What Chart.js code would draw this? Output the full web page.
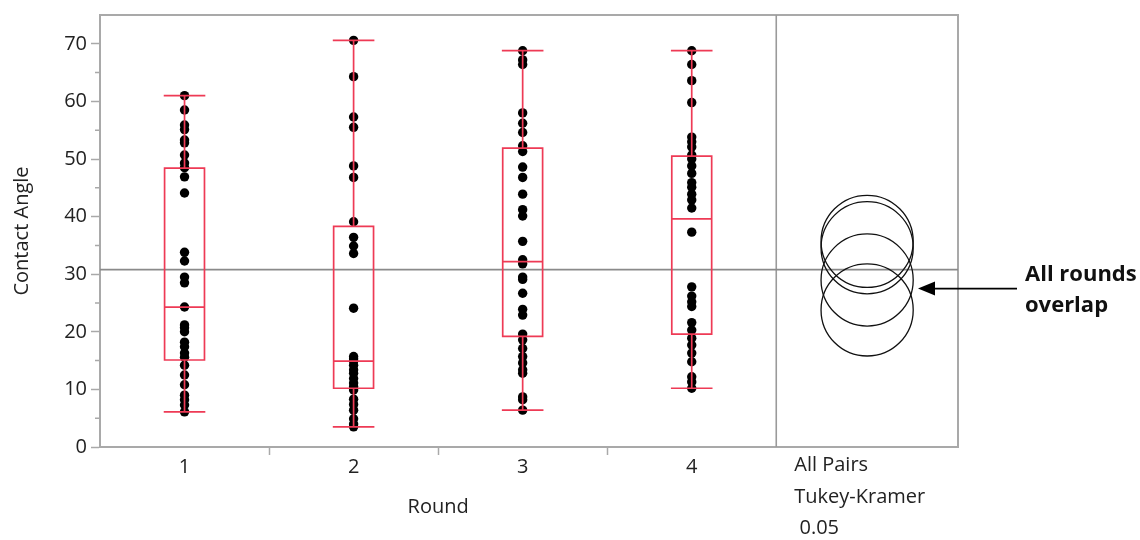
<!DOCTYPE html>
<html>
<head>
<meta charset="utf-8">
<script src="https://cdn.jsdelivr.net/npm/chart.js@4.4.0/dist/chart.umd.min.js"></script>
<style>
  html, body { margin: 0; padding: 0; background: #ffffff; }
  canvas { display: block; }
</style>
</head>
<body>
<canvas id="c" width="1140" height="540"></canvas>
<script>
// ---------------- data ----------------
const categories = ['1', '2', '3', '4'];

const round1 = [61.0, 58.5, 55.9, 55.1, 53.3, 52.8, 50.7, 49.3, 48.5, 46.9, 44.1, 33.8, 32.3, 29.5, 28.5,
                24.3, 21.2, 20.7, 20.0, 18.2, 17.4, 16.3, 15.6, 14.2, 12.5, 10.8, 9.0, 8.2, 7.3, 6.1];
const round2 = [70.6, 64.3, 57.3, 55.5, 48.8, 46.8, 39.1, 36.4, 34.9, 33.6, 24.1, 15.7, 15.3, 14.9,
                14.2, 13.4, 12.8, 11.9, 11.1, 10.5, 9.9, 8.3, 7.4, 6.4, 4.9, 4.0, 3.5];
const round3 = [68.8, 67.2, 66.4, 58.0, 56.2, 54.6, 52.3, 51.3, 48.6, 46.8, 43.9, 41.2, 40.1, 35.7, 32.5,
                31.8, 29.5, 29.1, 26.7, 23.9, 22.9, 19.6, 18.6, 17.1, 15.7, 14.6, 13.4, 12.8, 8.7, 8.2, 6.4];
const round4 = [68.8, 66.4, 63.6, 59.8, 53.8, 53.0, 52.1, 50.7, 50.0, 48.8, 47.5, 45.9, 45.1, 43.9, 42.9,
                41.5, 37.3, 27.8, 26.2, 25.2, 24.4, 21.6, 20.3, 18.9, 17.7, 16.3, 14.8, 12.2, 11.3, 10.2];
const roundValues = [round1, round2, round3, round4];

// box plot statistics
const whiskerHigh = [61.0, 70.6, 68.8, 68.8];
const q3 = [48.4, 38.3, 51.9, 50.5];
const medians = [24.3, 14.9, 32.2, 39.6];
const q1 = [15.1, 10.2, 19.2, 19.6];
const whiskerLow = [6.1, 3.5, 6.4, 10.2];

// comparison circles (Tukey-Kramer) – centres = group means, radius in data units
const groupMeans = [29.0, 23.8, 34.6, 35.7];
const circleRadius = 8.0;
const grandMean = 30.8;

const yTicks = [0, 10, 20, 30, 40, 50, 60, 70];
const testLabel = ['All Pairs', 'Tukey-Kramer', ' 0.05'];
const annotationLines = ['All rounds', 'overlap'];
const annotationValue = 27.5;

// ---------------- layout / style ----------------
const X_MIN = 0.5, X_MAX = 5.575, Y_MIN = 0, Y_MAX = 75;
const PANEL_SPLIT = categories.length + 0.5;
const HALF_W = 0.118;
const RED = '#ee3a55';
const TEXT = '#222222';
const FRAME = '#a9a9a9';
const FONT = "'Open Sans', 'DejaVu Sans', sans-serif";

Chart.defaults.font.family = FONT;
Chart.defaults.font.size = 20;
Chart.defaults.color = TEXT;

// box plot outline as one broken polyline (null breaks the line)
function boxSegments() {
  const pts = [];
  const brk = x => ({ x: x, y: null });
  categories.forEach((c, i) => {
    const x = i + 1;
    pts.push({ x: x - HALF_W, y: q1[i] }, { x: x + HALF_W, y: q1[i] }, { x: x + HALF_W, y: q3[i] },
             { x: x - HALF_W, y: q3[i] }, { x: x - HALF_W, y: q1[i] }, brk(x));
    pts.push({ x: x - HALF_W, y: medians[i] }, { x: x + HALF_W, y: medians[i] }, brk(x));
    pts.push({ x: x, y: q3[i] }, { x: x, y: whiskerHigh[i] }, brk(x));
    pts.push({ x: x - HALF_W, y: whiskerHigh[i] }, { x: x + HALF_W, y: whiskerHigh[i] }, brk(x));
    pts.push({ x: x, y: q1[i] }, { x: x, y: whiskerLow[i] }, brk(x));
    pts.push({ x: x - HALF_W, y: whiskerLow[i] }, { x: x + HALF_W, y: whiskerLow[i] }, brk(x));
  });
  return pts;
}

const pointData = [];
roundValues.forEach((vals, i) => vals.forEach(v => pointData.push({ x: i + 1, y: v })));

const circleX = (PANEL_SPLIT + X_MAX) / 2;
const circleData = groupMeans.map(m => ({ x: circleX, y: m }));

const xTickValues = [];
categories.forEach((c, i) => {
  xTickValues.push(i + 1);
  if (i < categories.length - 1) xTickValues.push(i + 1.5);
});

const decorations = {
  id: 'decorations',
  beforeDatasetsDraw(chart) {
    const { ctx, chartArea: a } = chart;
    const ys = chart.scales.y;
    ctx.save();
    ctx.strokeStyle = FRAME;
    ctx.lineWidth = 2;
    ctx.beginPath();
    ctx.moveTo(a.left, a.top);
    ctx.lineTo(a.right, a.top);
    ctx.lineTo(a.right, a.bottom);
    ctx.stroke();
    // minor y ticks
    ctx.lineWidth = 1.5;
    ctx.beginPath();
    for (let k = 0; k < yTicks.length - 1; k++) {
      const p = ys.getPixelForValue((yTicks[k] + yTicks[k + 1]) / 2);
      ctx.moveTo(a.left - 5, p);
      ctx.lineTo(a.left, p);
    }
    ctx.stroke();
    ctx.restore();
  },
  afterDraw(chart) {
    const { ctx, chartArea: a } = chart;
    const xs = chart.scales.x, ys = chart.scales.y;
    ctx.save();
    ctx.fillStyle = TEXT;
    ctx.font = '20px ' + FONT;
    ctx.textBaseline = 'alphabetic';
    // x-axis title centred under the category panel
    ctx.textAlign = 'center';
    ctx.fillText('Round', xs.getPixelForValue((1 + categories.length) / 2), 513);
    // test label under the circle panel
    ctx.textAlign = 'left';
    const lx = xs.getPixelForValue(PANEL_SPLIT) + 18;
    testLabel.forEach((t, k) => ctx.fillText(t, lx, 471 + k * 31.5));
    // annotation arrow
    const ay = ys.getPixelForValue(annotationValue);
    const tip = a.right - 40, tail = a.right + 59;
    ctx.strokeStyle = '#000';
    ctx.fillStyle = '#000';
    ctx.lineWidth = 1.6;
    ctx.beginPath();
    ctx.moveTo(tail, ay);
    ctx.lineTo(tip + 12, ay);
    ctx.stroke();
    ctx.beginPath();
    ctx.moveTo(tip, ay);
    ctx.lineTo(tip + 17, ay - 7);
    ctx.lineTo(tip + 17, ay + 7);
    ctx.closePath();
    ctx.fill();
    ctx.font = 'bold 22px ' + FONT;
    ctx.fillStyle = '#111';
    annotationLines.forEach((t, k) => ctx.fillText(t, a.right + 67, ay - 8 + k * 31));
    ctx.restore();
  }
};

new Chart(document.getElementById('c'), {
  type: 'scatter',
  data: {
    datasets: [
      {
        label: 'box',
        data: boxSegments(),
        showLine: true,
        spanGaps: false,
        borderColor: RED,
        borderWidth: 1.7,
        borderCapStyle: 'square',
        pointRadius: 0,
        order: 0
      },
      {
        label: 'points',
        data: pointData,
        pointRadius: 4.7,
        pointBackgroundColor: '#000',
        pointBorderColor: '#000',
        pointBorderWidth: 0,
        order: 1
      },
      {
        label: 'circles',
        data: circleData,
        pointRadius: ctx => {
          const s = ctx.chart.scales.y;
          return Math.abs(s.getPixelForValue(0) - s.getPixelForValue(circleRadius));
        },
        pointBackgroundColor: 'rgba(0,0,0,0)',
        pointBorderColor: '#111',
        pointBorderWidth: 1.3,
        order: 2
      },
      {
        label: 'grand mean',
        data: [{ x: X_MIN, y: grandMean }, { x: X_MAX, y: grandMean }],
        showLine: true,
        borderColor: '#8a8a8a',
        borderWidth: 1.6,
        pointRadius: 0,
        order: 3
      },
      {
        label: 'separator',
        data: [{ x: PANEL_SPLIT, y: Y_MIN }, { x: PANEL_SPLIT, y: Y_MAX }],
        showLine: true,
        borderColor: '#9a9a9a',
        borderWidth: 1.6,
        pointRadius: 0,
        order: 3
      }
    ]
  },
  options: {
    responsive: false,
    animation: false,
    devicePixelRatio: 1,
    events: [],
    layout: { padding: { top: 15, right: 182, left: 0, bottom: 0 } },
    plugins: { legend: { display: false }, tooltip: { enabled: false } },
    scales: {
      x: {
        type: 'linear',
        min: X_MIN,
        max: X_MAX,
        afterBuildTicks: s => { s.ticks = xTickValues.map(v => ({ value: v })); },
        afterFit: s => { s.height = 93; s.paddingLeft = 0; s.paddingRight = 0; },
        ticks: {
          autoSkip: false,
          maxRotation: 0,
          padding: 0,
          color: TEXT,
          font: { size: 20 },
          callback: v => Number.isInteger(v) ? categories[v - 1] : ''
        },
        grid: {
          display: true,
          drawOnChartArea: false,
          drawTicks: true,
          tickLength: 8,
          tickWidth: 1.5,
          tickColor: ctx => (ctx.tick && Number.isInteger(ctx.tick.value)) ? 'rgba(0,0,0,0)' : FRAME
        },
        border: { display: true, color: FRAME, width: 2 }
      },
      y: {
        type: 'linear',
        min: Y_MIN,
        max: Y_MAX,
        afterBuildTicks: s => { s.ticks = yTicks.map(v => ({ value: v })); },
        afterFit: s => { s.width = 100; s.paddingTop = 0; s.paddingBottom = 0; },
        ticks: { padding: 4, color: TEXT, font: { size: 20 } },
        grid: { display: true, drawOnChartArea: false, tickLength: 9, tickWidth: 1.5, tickColor: FRAME },
        border: { display: true, color: FRAME, width: 2 },
        title: {
          display: true,
          text: 'Contact Angle',
          color: TEXT,
          font: { size: 20 },
          padding: { top: 10, bottom: 0 }
        }
      }
    }
  },
  plugins: [decorations]
});
</script>
</body>
</html>
